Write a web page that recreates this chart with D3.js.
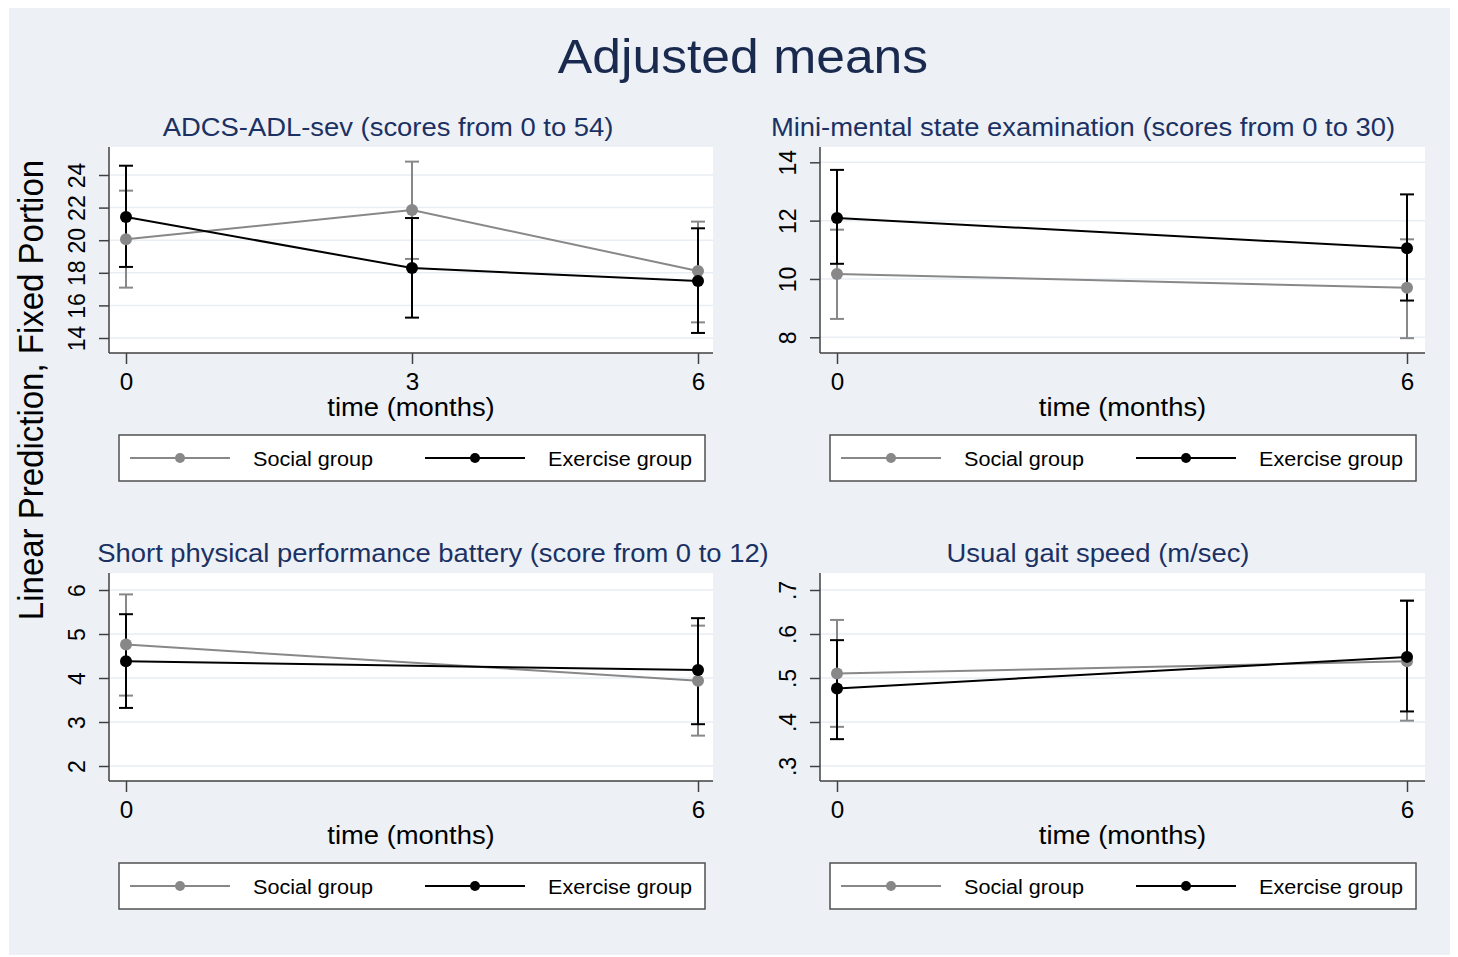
<!DOCTYPE html>
<html>
<head>
<meta charset="utf-8">
<script src="https://cdn.jsdelivr.net/npm/d3@7"></script>
<style>
  body { margin: 0; background: #ffffff; }
  text { font-family: "Liberation Sans", Arial, sans-serif; }
</style>
</head>
<body>
<div id="chart"></div>
<script>
"use strict";

// data
const panelTitles = [
  "ADCS-ADL-sev (scores from 0 to 54)",
  "Mini-mental state examination (scores from 0 to 30)",
  "Short physical performance battery (score from 0 to 12)",
  "Usual gait speed (m/sec)"
];
const seriesNames = ["Social group", "Exercise group"];

// ADCS-ADL-sev
const adlTimes = [0, 3, 6];
const adlTicks = [14, 16, 18, 20, 22, 24];
const adlSocial = [20.06, 21.85, 18.11];
const adlSocialCI = [[17.09, 23.04], [18.85, 24.82], [14.96, 21.14]];
const adlExercise = [21.42, 18.29, 17.50];
const adlExerciseCI = [[18.36, 24.57], [15.25, 21.36], [14.31, 20.73]];

// MMSE
const mmseTimes = [0, 6];
const mmseTicks = [8, 10, 12, 14];
const mmseSocial = [10.17, 9.70];
const mmseSocialCI = [[8.63, 11.69], [7.97, 11.36]];
const mmseExercise = [12.09, 11.05];
const mmseExerciseCI = [[10.52, 13.74], [9.26, 12.90]];

// SPPB
const sppbTimes = [0, 6];
const sppbTicks = [2, 3, 4, 5, 6];
const sppbSocial = [4.76, 3.94];
const sppbSocialCI = [[3.60, 5.90], [2.69, 5.19]];
const sppbExercise = [4.38, 4.18];
const sppbExerciseCI = [[3.32, 5.45], [2.95, 5.36]];

// gait speed
const gaitTimes = [0, 6];
const gaitTicks = [0.3, 0.4, 0.5, 0.6, 0.7];
const gaitSocial = [0.510, 0.538];
const gaitSocialCI = [[0.389, 0.632], [0.403, 0.675]];
const gaitExercise = [0.476, 0.548];
const gaitExerciseCI = [[0.361, 0.586], [0.424, 0.676]];

const panels = [
  { times: adlTimes, ticks: adlTicks, fmt: d3.format("d"),
    series: [[adlSocial, adlSocialCI], [adlExercise, adlExerciseCI]] },
  { times: mmseTimes, ticks: mmseTicks, fmt: d3.format("d"),
    series: [[mmseSocial, mmseSocialCI], [mmseExercise, mmseExerciseCI]] },
  { times: sppbTimes, ticks: sppbTicks, fmt: d3.format("d"),
    series: [[sppbSocial, sppbSocialCI], [sppbExercise, sppbExerciseCI]] },
  { times: gaitTimes, ticks: gaitTicks, fmt: d => d3.format(".1f")(d).replace(/^0/, ""),
    series: [[gaitSocial, gaitSocialCI], [gaitExercise, gaitExerciseCI]] }
];

// layout (pixels)
const W = 1458, H = 957;
const sx = 1.054; // the source picture is slightly stretched sideways
const colors = ["#888888", "#000000"];
const boxes = [
  { left: 109, right: 713, top: 147, bottom: 353, x0: 126, x1: 698, y: [338, 175], tx: 388 },
  { left: 820, right: 1425, top: 147, bottom: 353, x0: 837, x1: 1407, y: [337.3, 162.3], tx: 1083 },
  { left: 109, right: 713, top: 573, bottom: 781, x0: 126, x1: 698, y: [766, 590], tx: 433 },
  { left: 820, right: 1425, top: 573, bottom: 781, x0: 837, x1: 1407, y: [766, 590], tx: 1098 }
];

const svg = d3.select("#chart").append("svg")
  .attr("width", W)
  .attr("height", H);

svg.append("rect")
  .attr("x", 9).attr("y", 8)
  .attr("width", 1441).attr("height", 947)
  .attr("fill", "#edf1f6");

const addText = (g, str, x, y, size, color, rot) => g.append("text")
  .text(str)
  .attr("transform", `translate(${x},${y}) scale(${sx},1)` + (rot ? " rotate(-90)" : ""))
  .attr("text-anchor", "middle")
  .attr("font-size", size)
  .attr("fill", color);

addText(svg, "Adjusted means", 743, 73, 49, "#1a2a4f");
addText(svg, "Linear Prediction, Fixed Portion", 43, 390, 33, "#000000", true);

panels.forEach((p, i) => {
  const b = boxes[i];
  const g = svg.append("g");

  const x = d3.scaleLinear().domain([0, 6]).range([b.x0, b.x1]);
  const y = d3.scaleLinear()
    .domain([p.ticks[0], p.ticks[p.ticks.length - 1]])
    .range(b.y);

  addText(g, panelTitles[i], b.tx, b.top - 11, 26, "#1c3163");

  g.append("rect")
    .attr("x", b.left).attr("y", b.top)
    .attr("width", b.right - b.left).attr("height", b.bottom - b.top)
    .attr("fill", "#ffffff");

  // grid
  g.selectAll(".grid")
    .data(p.ticks)
    .join("line")
    .attr("x1", b.left).attr("x2", b.right)
    .attr("y1", d => y(d)).attr("y2", d => y(d))
    .attr("stroke", "#e9eef4")
    .attr("stroke-width", 1.5);

  // y axis
  const ya = g.append("g")
    .attr("transform", `translate(${b.left},0)`)
    .call(d3.axisLeft(y).tickValues(p.ticks).tickSize(10).tickFormat(p.fmt));
  ya.select(".domain").remove();
  ya.selectAll("line").attr("stroke", "#404040").attr("stroke-width", 1.5);
  ya.selectAll("text")
    .attr("x", null).attr("dy", null)
    .attr("transform", `translate(-24,0) scale(${sx},1) rotate(-90)`)
    .attr("text-anchor", "middle")
    .attr("font-size", 23)
    .attr("font-family", null)
    .attr("fill", "#000");

  // x axis
  const xa = g.append("g")
    .attr("transform", `translate(0,${b.bottom})`)
    .call(d3.axisBottom(x).tickValues(p.times).tickSize(11).tickFormat(d3.format("d")));
  xa.select(".domain").remove();
  xa.selectAll("line").attr("stroke", "#404040").attr("stroke-width", 1.5);
  xa.selectAll("text")
    .attr("y", null).attr("dy", null)
    .attr("transform", `translate(0,37) scale(${sx},1)`)
    .attr("font-size", 23)
    .attr("font-family", null)
    .attr("fill", "#000");

  g.append("line")
    .attr("x1", b.left).attr("x2", b.left)
    .attr("y1", b.top).attr("y2", b.bottom)
    .attr("stroke", "#404040").attr("stroke-width", 1.5);
  g.append("line")
    .attr("x1", b.left).attr("x2", b.right)
    .attr("y1", b.bottom).attr("y2", b.bottom)
    .attr("stroke", "#404040").attr("stroke-width", 1.5);

  addText(g, "time (months)", (b.left + b.right) / 2, b.bottom + 63, 26, "#000");

  // error bars first, then lines and markers
  p.series.forEach((s, k) => {
    const ci = s[1];
    const eb = g.append("g").attr("stroke", colors[k]).attr("stroke-width", 2);
    eb.selectAll(".v").data(ci).join("line")
      .attr("x1", (d, j) => x(p.times[j])).attr("x2", (d, j) => x(p.times[j]))
      .attr("y1", d => y(d[0])).attr("y2", d => y(d[1]));
    eb.selectAll(".lo").data(ci).join("line")
      .attr("x1", (d, j) => x(p.times[j]) - 7).attr("x2", (d, j) => x(p.times[j]) + 7)
      .attr("y1", d => y(d[0])).attr("y2", d => y(d[0]));
    eb.selectAll(".hi").data(ci).join("line")
      .attr("x1", (d, j) => x(p.times[j]) - 7).attr("x2", (d, j) => x(p.times[j]) + 7)
      .attr("y1", d => y(d[1])).attr("y2", d => y(d[1]));
  });

  p.series.forEach((s, k) => {
    const line = d3.line().x((d, j) => x(p.times[j])).y(d => y(d));
    g.append("path")
      .attr("d", line(s[0]))
      .attr("fill", "none")
      .attr("stroke", colors[k])
      .attr("stroke-width", 2);
    g.append("g").selectAll("circle")
      .data(s[0])
      .join("circle")
      .attr("cx", (d, j) => x(p.times[j]))
      .attr("cy", d => y(d))
      .attr("r", 6)
      .attr("fill", colors[k]);
  });

  // legend
  const lt = b.bottom + 82, ll = b.left + 10;
  const lg = g.append("g");
  lg.append("rect")
    .attr("x", ll).attr("y", lt)
    .attr("width", 586).attr("height", 46)
    .attr("fill", "#ffffff")
    .attr("stroke", "#505050")
    .attr("stroke-width", 1.5);
  seriesNames.forEach((name, k) => {
    const ox = ll + 11 + k * 295;
    lg.append("line")
      .attr("x1", ox).attr("x2", ox + 100)
      .attr("y1", lt + 23).attr("y2", lt + 23)
      .attr("stroke", colors[k]).attr("stroke-width", 2);
    lg.append("circle")
      .attr("cx", ox + 50).attr("cy", lt + 23).attr("r", 5)
      .attr("fill", colors[k]);
    lg.append("text")
      .text(name)
      .attr("transform", `translate(${ox + 123},${lt + 31}) scale(${sx},1)`)
      .attr("font-size", 20.5)
      .attr("fill", "#000");
  });
});
</script>
</body>
</html>
